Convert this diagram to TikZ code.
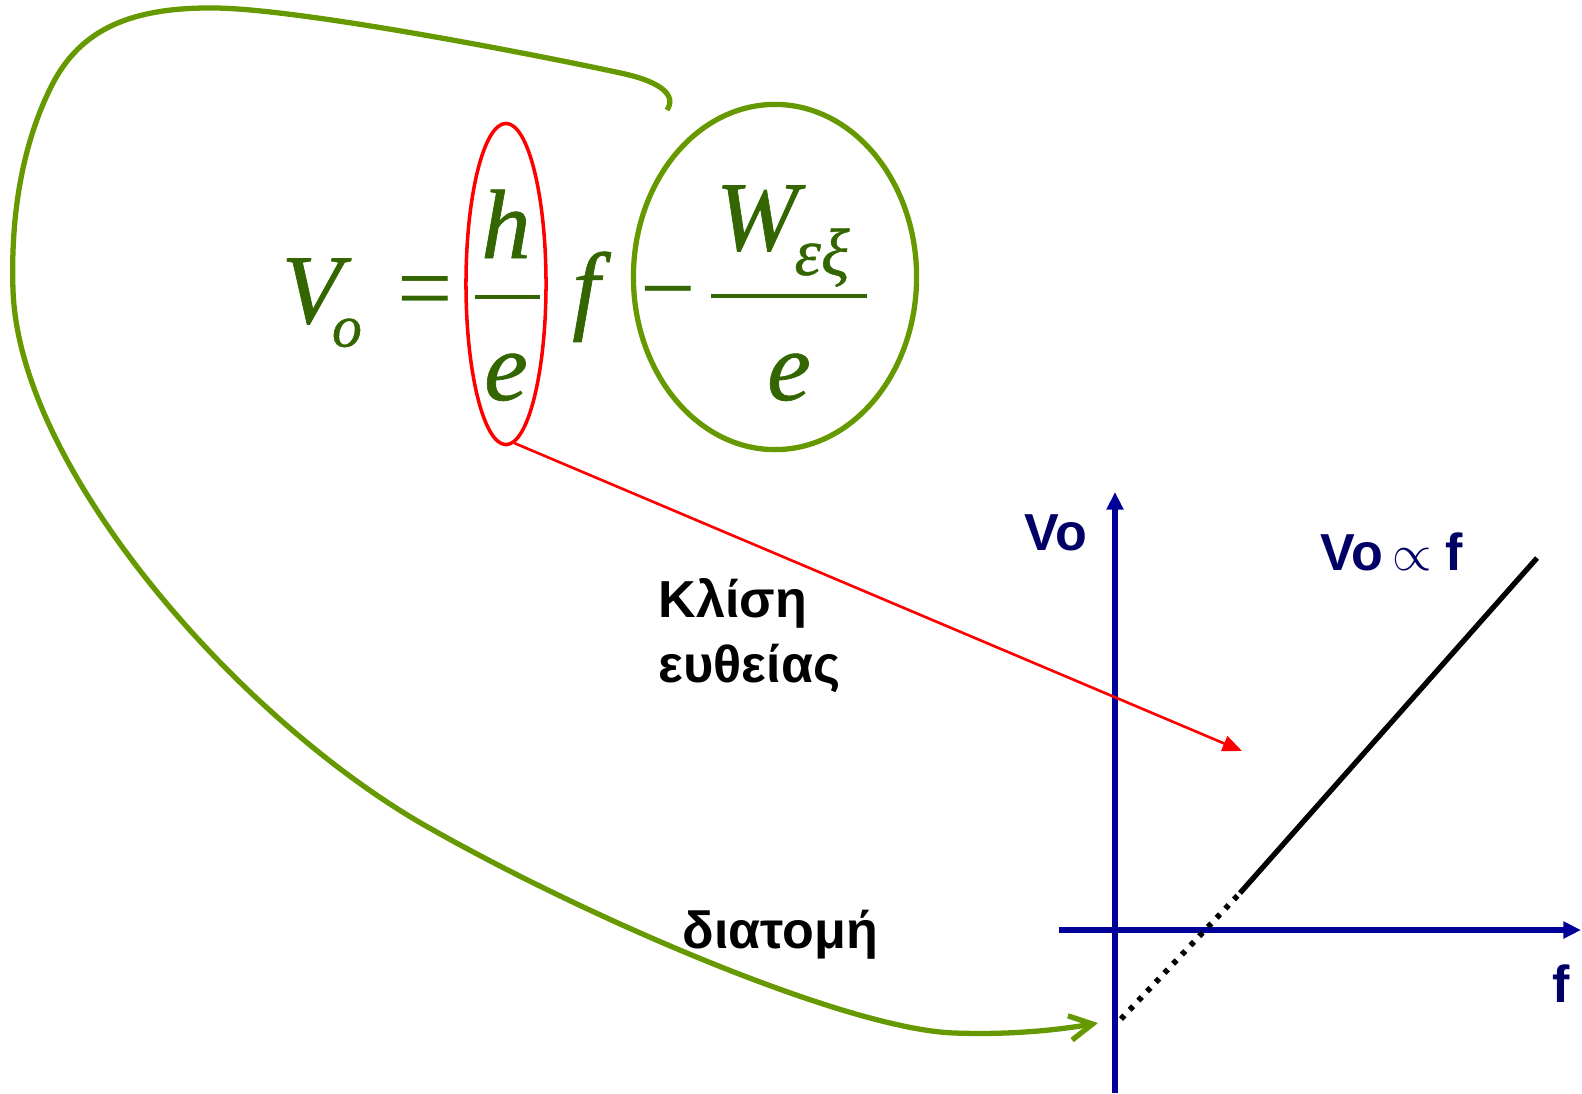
\documentclass[tikz,border=0pt]{standalone}
\usepackage{fontspec}
\setmainfont{Liberation Serif}
\newfontfamily\eqfont{Liberation Serif}[ItalicFeatures={FakeBold=0.7}]
\newfontfamily\labelfont{Liberation Sans}
\usepackage{tikz}
\usetikzlibrary{arrows.meta,positioning,shapes.geometric}

\definecolor{eqgreen}{RGB}{51,102,0}
\definecolor{ringgreen}{RGB}{102,153,0}
\definecolor{axisblue}{RGB}{0,0,153}
\definecolor{labelnavy}{RGB}{0,0,102}

\tikzset{
  eqsym/.style={font=\eqfont\itshape\fontsize{28}{30}\selectfont, text=eqgreen, inner sep=0, anchor=base},
  eqsub/.style={font=\eqfont\itshape\fontsize{19}{21}\selectfont, text=eqgreen, inner sep=0, anchor=base},
  eqop/.style={font=\fontsize{28}{30}\selectfont, text=eqgreen, inner sep=0, anchor=base},
  fracbar/.style={eqgreen, line width=1pt},
  lbl/.style={font=\labelfont\bfseries\fontsize{14.8}{17}\selectfont, inner sep=0, anchor=base west},
  axis/.style={axisblue, line width=1.5pt, -{Triangle[length=5pt,width=4.6pt]}},
}

\begin{document}
\begin{tikzpicture}[x=0.01cm,y=-0.01cm]
    \useasboundingbox (0,0) rectangle (1582,1093);

    % the equation
    \node[eqsym, anchor=base west] (Vsym) at (281,323) {V\kern-0.1em\raisebox{-0.24em}{\fontsize{17}{19}\selectfont o}};
    \node[eqop] (eqsign) at (425,321) {=};
    \node[eqsym] (hnum) at (506,258) {h};
    \node[eqsym] (eden) at (506,400) {e};
    \node[eqsym] (fvar) at (586,321) {f};
    \node[eqop] (minus) at (668,321) {−};
    \node[eqsym] (Wnum) at (757,250) {W};
    \node[eqsub] (Wsub) at (822,275) {εξ};
    \node[eqsym] (wden) at (789,400) {e};
    \draw[fracbar] (475,297) -- (540,297);
    \draw[fracbar] (711,296) -- (867,296);

    % rings round the two terms
    \node[ellipse, draw=red, line width=1pt, minimum width=0.8cm, minimum height=3.21cm] (slopering) at (506,284) {};
    \node[ellipse, draw=ringgreen, line width=1.5pt, minimum width=2.83cm, minimum height=3.45cm] (cutring) at (775,277) {};

    % axes
    \coordinate (ybot) at (1115,1093);
    \coordinate (ytop) at (1115,492);
    \coordinate (xleft) at (1059,930);
    \coordinate (xright) at (1581,930);
    \draw[axis] (ybot) -- (ytop);
    \draw[axis] (xleft) -- (xright);

    % the straight line
    \coordinate (icept) at (1121,1019);
    \coordinate (knee) at (1240,893);
    \coordinate (lineend) at (1537,558);
    \draw[line width=1.6pt, dash pattern=on 1.4pt off 2.2pt] (icept) -- (knee);
    \draw[line width=1.5pt] (knee) -- (lineend);

    % labels
    \node[lbl, text=labelnavy] (vlabel) at (1024,550) {Vo};
    \node[lbl, text=labelnavy] (proplabel) at (1320,570) {Vo\,\(\propto\)\;f};
    \node[lbl, text=labelnavy] (flabel) at (1552,1002) {f};
    \node[lbl] (slopetxt) at (658,617) {Κλίση};
    \node[lbl] (slopetxt2) at (658,682) {ευθείας};
    \node[lbl] (cuttxt) at (682,948) {διατομή};

    % arrows
    \coordinate (slopetip) at (1242,751);
    \draw[red, line width=0.75pt, -{Triangle[length=5.5pt,width=4.5pt]}] (slopering.-87) -- (slopetip);
    \coordinate (cuthook) at (667,110);
    \coordinate (cuttip) at (1098,1023);
    \draw[ringgreen, line width=1.5pt, -{Straight Barb[length=6.5pt,width=7pt]}] (cuthook)
        .. controls (677,95) and (660,82) .. (625,74)
        .. controls (581,64) and (310,9) .. (215,8)
        .. controls (130,7) and (80,30) .. (52,85)
        .. controls (28,132) and (10,200) .. (13,290)
        .. controls (19,470) and (240,720) .. (426,826)
        .. controls (593,921) and (850,1030) .. (955,1033)
        .. controls (1010,1035) and (1058,1030) .. (cuttip);
\end{tikzpicture}
\end{document}
